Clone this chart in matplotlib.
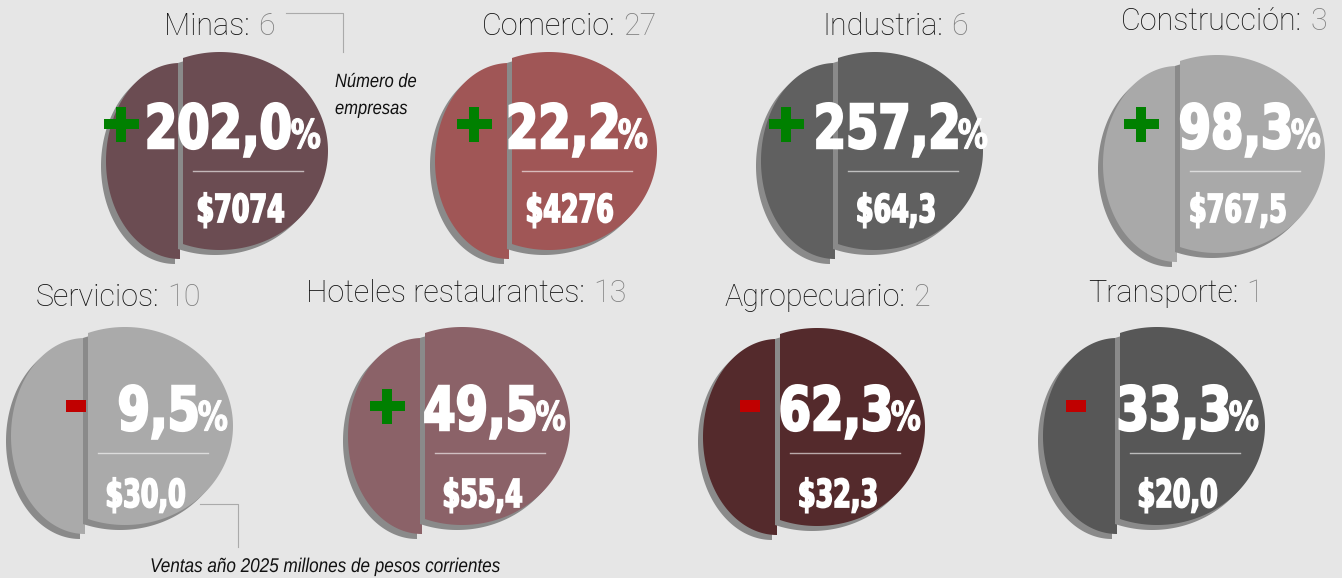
import numpy as np
import matplotlib
matplotlib.use("Agg")
import matplotlib.pyplot as plt
from matplotlib.patches import Polygon, PathPatch, Rectangle
from matplotlib.textpath import TextPath
from matplotlib.font_manager import FontProperties
from matplotlib.transforms import Affine2D

# data
sectores = ["Minas", "Comercio", "Industria", "Construcción",
            "Servicios", "Hoteles restaurantes", "Agropecuario", "Transporte"]
empresas = [6, 27, 6, 3, 10, 13, 2, 1]
variacion = [202.0, 22.2, 257.2, 98.3, -9.5, 49.5, -62.3, -33.3]
ventas = [7074, 4276, 64.3, 767.5, 30.0, 55.4, 32.3, 20.0]
colores = ["#6b4c52", "#a05656", "#606060", "#a9a9a9",
           "#aaaaaa", "#8b6268", "#542a2c", "#575757"]

# layout (pixels)
split_x = [183, 512, 838, 1180, 88, 425, 780, 1120]
centro_y = [151, 151, 151, 154, 426, 426, 427, 426]
fila = [0, 0, 0, 0, 1, 1, 1, 1]
num_base = [148, 430]
linea_y = [171, 453]
ventas_base = [222, 507]
num_dx = [137, 135, 149, 140, 139, 140, 140, 138]
titulo_x = [250, 615, 943, 1302, 159, 585, 905, 1238]
titulo_y = [35, 35, 35, 30, 306, 302, 306, 302]
signo_dx = [-62, -38, -52, -39, -12, -38, -30, -44]

BG = "#e6e6e6"
SOMBRA = "#8a8a8a"

fp_bold = FontProperties(family="DejaVu Sans", weight="bold")
fp_ital = FontProperties(family="Liberation Sans", style="italic")


def media_elipse(cx, cy, a, b, x_cut, lado):
    t0 = np.arccos((x_cut - cx) / a)
    if lado == "der":
        t = np.linspace(-t0, t0, 200)
    else:
        t = np.linspace(t0, 2 * np.pi - t0, 200)
    return np.column_stack([cx + a * np.cos(t), cy + b * np.sin(t)])


def texto_cond(ax, s, x, y, cap_px, xscale, ha="left", color="white", lw=0.8, fp=fp_bold):
    tp = TextPath((0, 0), s, size=100, prop=fp)
    k = cap_px / 72.9
    ext = tp.get_extents()
    if ha == "left":
        x0 = x
    elif ha == "right":
        x0 = x - ext.x1 * k * xscale
    else:
        x0 = x - (ext.x0 + ext.x1) / 2 * k * xscale
    tr = Affine2D().scale(k * xscale, -k).translate(x0, y)
    ax.add_patch(PathPatch(tr.transform_path(tp), fc=color, ec=color, lw=lw))
    return x0 + ext.x0 * k * xscale


def fmt_ventas(v):
    if v >= 1000:
        return "$%d" % v
    return ("$%.1f" % v).replace(".", ",")


fig = plt.figure(figsize=(13.42, 5.78), dpi=100)
fig.patch.set_facecolor(BG)
ax = fig.add_axes([0, 0, 1, 1])
ax.set_xlim(0, 1342)
ax.set_ylim(578, 0)
ax.axis("off")

for i, nombre in enumerate(sectores):
    sx, cy, r = split_x[i], centro_y[i], fila[i]
    izq = media_elipse(sx - 3, cy + 10, 74, 98, sx - 3, "izq")
    der = media_elipse(sx + 37, cy, 108, 99, sx, "der")
    for pts in (izq, der):
        ax.add_patch(Polygon(pts + np.array([-5, 5]), closed=True, fc=SOMBRA, ec="none"))
        ax.add_patch(Polygon(pts, closed=True, fc=colores[i], ec="none"))

    # porcentaje
    pct_left = texto_cond(ax, "%", sx + num_dx[i], num_base[r], 29, 0.76, ha="right")
    texto_cond(ax, ("%.1f" % abs(variacion[i])).replace(".", ","),
               pct_left - 2, num_base[r], 44, 0.77, ha="right", lw=1.8)

    # signo
    gx = sx + signo_dx[i]
    gy = num_base[r] - 24
    if variacion[i] >= 0:
        ax.add_patch(Rectangle((gx - 17.5, gy - 5), 35, 10, fc="#008000", ec="none"))
        ax.add_patch(Rectangle((gx - 5, gy - 17.5), 10, 35, fc="#008000", ec="none"))
    else:
        ax.add_patch(Rectangle((gx - 10, gy - 6), 20, 12, fc="#c00000", ec="none"))

    # divisor y ventas
    ax.plot([sx + 10, sx + 120], [linea_y[r], linea_y[r]], color="white", alpha=0.6, lw=1)
    texto_cond(ax, fmt_ventas(ventas[i]), sx + 58, ventas_base[r], 28, 0.66,
               ha="center", lw=1.3)

    # titulo
    ax.text(titulo_x[i], titulo_y[i], nombre + ":", ha="right", va="baseline",
            fontsize=22, family="Roboto", fontweight="light", color="#111111")
    ax.text(titulo_x[i] + 8, titulo_y[i], str(empresas[i]), ha="left", va="baseline",
            fontsize=22, family="Roboto", fontweight="light", color="#808080")

# notas
ax.plot([286, 343, 343], [13, 13, 52], color="#aaaaaa", lw=0.8)
texto_cond(ax, "Número de", 335, 87, 14, 0.86, color="#111111", lw=0, fp=fp_ital)
texto_cond(ax, "empresas", 335, 114, 14, 0.86, color="#111111", lw=0, fp=fp_ital)
ax.plot([200, 238, 238], [504, 504, 547], color="#aaaaaa", lw=0.8)
texto_cond(ax, "Ventas año 2025 millones de pesos corrientes", 150, 572, 14.5, 0.86,
           color="#111111", lw=0, fp=fp_ital)

fig.savefig("out.png", dpi=100, facecolor=BG)
